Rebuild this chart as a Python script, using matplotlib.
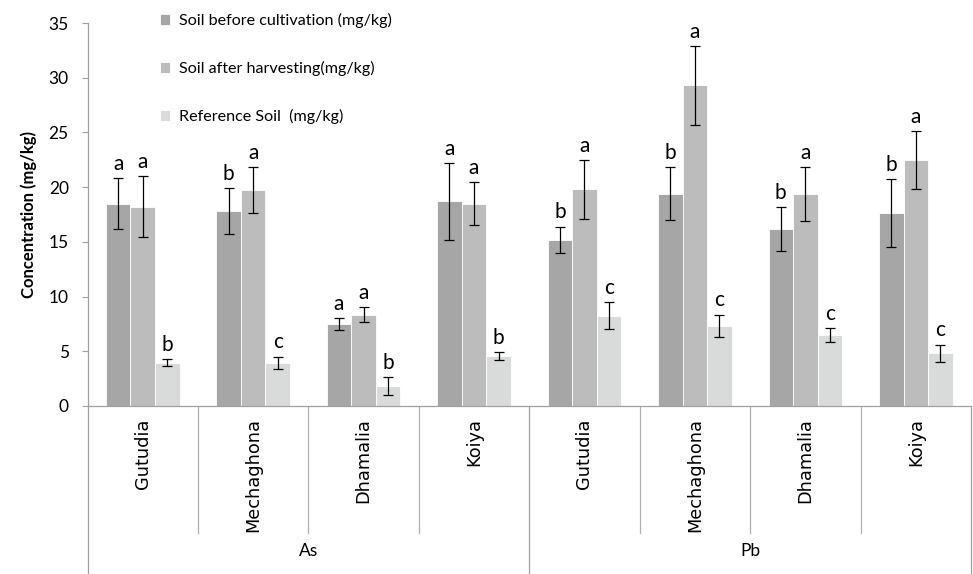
import matplotlib
matplotlib.use("Agg")
import matplotlib.pyplot as plt
import numpy as np

# ---- data ----
sites = ['Gutudia', 'Mechaghona', 'Dhamalia', 'Koiya', 'Gutudia', 'Mechaghona', 'Dhamalia', 'Koiya']
metals = ['As', 'Pb']
series_names = ['Soil before cultivation (mg/kg)', 'Soil after harvesting(mg/kg)', 'Reference Soil  (mg/kg)']
before = [18.5, 17.8, 7.5, 18.7, 15.2, 19.4, 16.2, 17.6]
before_err = [2.3, 2.1, 0.55, 3.5, 1.2, 2.4, 2.0, 3.1]
after = [18.2, 19.7, 8.35, 18.5, 19.8, 29.3, 19.4, 22.5]
after_err = [2.8, 2.1, 0.67, 2.0, 2.7, 3.6, 2.45, 2.65]
ref = [3.95, 3.95, 1.83, 4.57, 8.26, 7.31, 6.49, 4.84]
ref_err = [0.32, 0.57, 0.85, 0.33, 1.2, 1.05, 0.62, 0.78]
before_let = ['a', 'b', 'a', 'a', 'b', 'b', 'b', 'b']
after_let = ['a', 'a', 'a', 'a', 'a', 'a', 'a', 'a']
ref_let = ['b', 'c', 'b', 'b', 'c', 'c', 'c', 'c']
yticks = [0, 5, 10, 15, 20, 25, 30, 35]

colors = ['#a5a6a5', '#bcbcbc', '#d9dada']
W, H = 973, 574
fig = plt.figure(figsize=(W / 100, H / 100), dpi=100)
L, R, B, T = 87.5, 971, 406, 23
ax = fig.add_axes([L / W, 1 - B / H, (R - L) / W, (B - T) / H])
axh = B - T

x = np.arange(len(sites))
bw = 1 / 4.5
vals = [before, after, ref]
errs = [before_err, after_err, ref_err]
lets = [before_let, after_let, ref_let]
font = 'Lato'
for i in range(3):
    xi = x + (i - 1) * bw
    ax.bar(xi, vals[i], width=bw, color=colors[i], edgecolor='white', linewidth=0.6,
           label=series_names[i], zorder=2)
    ax.errorbar(xi, vals[i], yerr=errs[i], fmt='none', ecolor='black', elinewidth=0.9,
                capsize=3.3, capthick=0.9, zorder=3)
    for xx, v, e, l in zip(xi, vals[i], errs[i], lets[i]):
        ax.annotate(l, (xx, v + e), xytext=(0, 3), textcoords='offset points',
                    ha='center', va='bottom', fontsize=15, family=font)

ax.set_xlim(-0.5, len(sites) - 0.5)
ax.set_ylim(0, 35)
ax.set_yticks(yticks)
ax.tick_params(axis='y', length=4.5, width=0.8, color='#a0a0a0', pad=9, labelsize=12.5)
for lab in ax.get_yticklabels():
    lab.set_family(font)
ax.set_xticks(x)
ax.set_xticklabels(sites, rotation=90, va='top', fontsize=12.8, family='DejaVu Sans')
ax.tick_params(axis='x', length=0, pad=9)
for s in ['top', 'right']:
    ax.spines[s].set_visible(False)
ax.spines['left'].set_color('#a0a0a0')
ax.spines['bottom'].set_color('#a0a0a0')
ax.spines['left'].set_linewidth(0.9)
ax.spines['bottom'].set_linewidth(0.9)
ax.set_ylabel('Concentration (mg/kg)', fontsize=12, fontweight='bold', family=font, labelpad=8)

# multi-level category axis lines
tr = ax.get_xaxis_transform()
inner_bot = -(533 - B) / axh
outer_bot = -(H - B + 2) / axh
for k in range(len(sites) + 1):
    xs = k - 0.5
    if k in (0, 4, 8):
        ax.plot([xs, xs], [0, outer_bot], transform=tr, color='#a0a0a0', lw=0.9, clip_on=False)
    else:
        ax.plot([xs, xs], [0, inner_bot], transform=tr, color='#b0b0b0', lw=0.9, clip_on=False)
for j, m in enumerate(metals):
    ax.text(j * 4 + 1.5, -(551 - B) / axh, m, transform=tr, ha='center', va='center',
            fontsize=12.5, family=font)

leg = ax.legend(loc='upper left', bbox_to_anchor=(160 / W, 1 - 13 / H), bbox_transform=fig.transFigure,
                frameon=False, prop={'family': font, 'size': 11.6},
                handlelength=0.65, handleheight=0.65, handletextpad=0.5, labelspacing=2.05,
                borderpad=0, borderaxespad=0)

fig.savefig('out.png', dpi=100)
